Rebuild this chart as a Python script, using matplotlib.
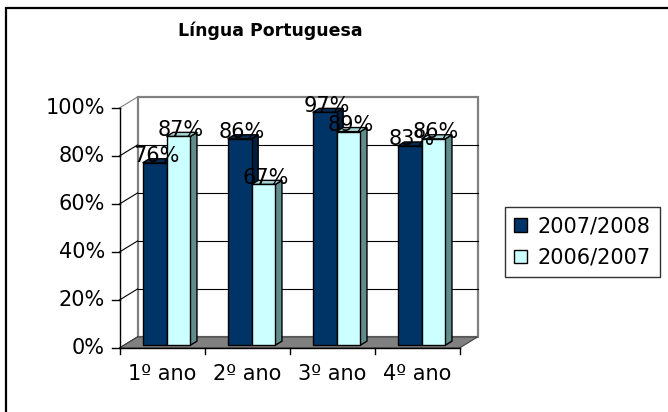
import matplotlib
matplotlib.use("Agg")
import matplotlib.pyplot as plt
from matplotlib.patches import Polygon, Rectangle, Patch

# data
categories = ["1º ano", "2º ano", "3º ano", "4º ano"]
series_names = ["2007/2008", "2006/2007"]
values_0708 = [76, 86, 97, 83]
values_0607 = [87, 67, 89, 86]
yticks = [0, 20, 40, 60, 80, 100]

face_colors = ["#003366", "#ccffff"]
top_colors = ["#0a2a52", "#a8d4d4"]
side_colors = ["#001f40", "#628c8c"]

plt.rcParams["font.family"] = ["DejaVu Sans"]

fig = plt.figure(figsize=(6.68, 4.12), dpi=100)
# axes = front plane of the 3d box
ax = fig.add_axes([119.5 / 668, (412 - 348) / 412, 340 / 668, 240 / 412])
ax.set_xlim(-0.5, len(categories) - 0.5)
ax.set_ylim(0, 100)
ax.axis("off")

DX, DY = 0.212, 4.6   # full depth offset in data units
x0, x1 = -0.5, len(categories) - 0.5


def poly(pts, fc, ec, lw=1.0, z=1):
    ax.add_patch(Polygon(pts, closed=True, facecolor=fc, edgecolor=ec,
                         linewidth=lw, zorder=z, clip_on=False))


# back wall
ax.add_patch(Rectangle((x0 + DX, DY), x1 - x0, 100, facecolor="white",
                       edgecolor="#808080", linewidth=1.6, zorder=1, clip_on=False))
for t in yticks[1:-1]:
    ax.plot([x0 + DX, x1 + DX], [t + DY, t + DY], color="black", lw=0.8,
            zorder=1.5, clip_on=False)
# left wall
for t in yticks:
    c = "#808080" if t == 100 else "black"
    ax.plot([x0, x0 + DX], [t, t + DY], color=c, lw=0.8, zorder=1.5, clip_on=False)
# floor
poly([(x0, 0), (x1, 0), (x1 + DX, DY), (x0 + DX, DY)], "#808080", "#404040", 0.8, 2)

# axes lines and ticks
ax.plot([x0, x0], [0, 100], color="black", lw=1.0, zorder=6, clip_on=False)
ax.plot([x0, x1], [0, 0], color="black", lw=1.0, zorder=6, clip_on=False)
for t in yticks:
    ax.plot([x0 - 0.09, x0], [t, t], color="black", lw=1.0, zorder=6, clip_on=False)
    ax.text(x0 - 0.17, t, f"{t}%", ha="right", va="center", fontsize=15)
for k in range(len(categories) + 1):
    ax.plot([x0 + k, x0 + k], [0, -2.5], color="black", lw=1.0, zorder=6, clip_on=False)
for k, lab in enumerate(categories):
    ax.text(k, -11, lab, ha="center", va="center", fontsize=15)

# bars
bw = 0.28
f0, f1 = 0.25, 0.62
for s, vals in enumerate([values_0708, values_0607]):
    for k, v in enumerate(vals):
        left = k - bw + s * bw + f0 * DX
        base = f0 * DY
        ddx, ddy = (f1 - f0) * DX, (f1 - f0) * DY
        right = left + bw
        top = v + base
        z = 3 + k * 0.1 + s * 0.01
        poly([(right, base), (right + ddx, base + ddy), (right + ddx, top + ddy),
              (right, top)], side_colors[s], "black", 1.0, z)
        poly([(left, top), (right, top), (right + ddx, top + ddy),
              (left + ddx, top + ddy)], top_colors[s], "black", 1.0, z)
        poly([(left, base), (right, base), (right, top), (left, top)],
             face_colors[s], "black", 1.0, z)

for s, vals in enumerate([values_0708, values_0607]):
    for k, v in enumerate(vals):
        cx = k - bw / 2 + s * bw + 0.08
        ax.text(cx, v + 4.0, f"{v}%", ha="center", va="center", fontsize=15,
                zorder=10)

# title
fig.text(270 / 668, 1 - 31 / 412, "Língua Portuguesa", ha="center", va="center",
         fontsize=12.5, fontweight="bold")

# legend
handles = [Patch(facecolor=face_colors[i], edgecolor="black", linewidth=1.0)
           for i in range(2)]
leg = fig.legend(handles, series_names, loc="center left",
                 bbox_to_anchor=(505 / 668, 1 - 242 / 412), fontsize=15,
                 frameon=True, fancybox=False, handlelength=0.6, handleheight=0.6,
                 handletextpad=0.5, labelspacing=0.55, borderpad=0.45,
                 borderaxespad=0)
leg.get_frame().set_edgecolor("black")
leg.get_frame().set_linewidth(1.0)

# outer chart border
fig.patches.append(Rectangle((6 / 668, -0.1), 1.2, 1.1 - 8 / 412, fill=False,
                             edgecolor="black", linewidth=1.6,
                             transform=fig.transFigure, figure=fig))

fig.savefig("out.png", dpi=100)
